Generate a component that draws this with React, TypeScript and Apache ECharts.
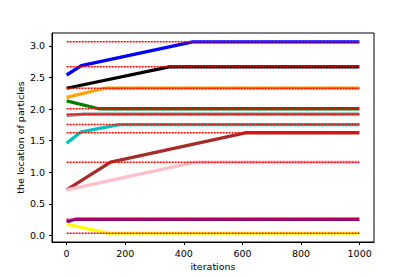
import React, { useEffect, useRef } from "react";
import * as echarts from "echarts";

// Breakpoints [iteration, location] for each particle
const blueData: number[][] = [[0, 2.54], [50, 2.69], [430, 3.065], [999, 3.065]];
const blackData: number[][] = [[0, 2.33], [350, 2.67], [999, 2.67]];
const orangeData: number[][] = [[0, 2.185], [130, 2.33], [999, 2.33]];
const greenData: number[][] = [[0, 2.13], [110, 2.005], [999, 2.005]];
const grayData: number[][] = [[0, 1.9], [60, 1.92], [999, 1.92]];
const cyanData: number[][] = [[0, 1.46], [50, 1.64], [180, 1.755], [999, 1.755]];
const brownData: number[][] = [[0, 0.72], [150, 1.16], [610, 1.625], [999, 1.625]];
const pinkData: number[][] = [[0, 0.72], [440, 1.16], [999, 1.16]];
const purpleData: number[][] = [[0, 0.215], [30, 0.255], [999, 0.255]];
const yellowData: number[][] = [[0, 0.18], [140, 0.035], [999, 0.035]];

const particleColors = ["#0000ff", "#000000", "#ffa500", "#008000", "#808080", "#00bfbf", "#a52a2a", "#ffc0cb", "#800080", "#ffff00"];
const particleSeries = [blueData, blackData, orangeData, greenData, grayData, cyanData, brownData, pinkData, purpleData, yellowData];

// Final (target) locations drawn as red dotted lines
const finalLocations = [3.065, 2.67, 2.33, 2.005, 1.92, 1.755, 1.625, 1.16, 0.255, 0.035];
const lineStart = 0;
const lineEnd = 999;

const xTicks = [0, 200, 400, 600, 800, 1000];
const yTicks = [0, 0.5, 1.0, 1.5, 2.0, 2.5, 3.0];

export default function App() {
  const ref = useRef<HTMLDivElement>(null);
  useEffect(() => {
    if (!ref.current) return;
    const chart = echarts.init(ref.current, null, { renderer: "svg" });
    const font = "DejaVu Sans";
    const series: any[] = [];
    particleSeries.forEach((d, i) => {
      series.push({
        type: "line",
        data: d,
        symbol: "none",
        lineStyle: { color: particleColors[i], width: 3.3 },
        z: 2,
        silent: true,
      });
    });
    finalLocations.forEach((v) => {
      series.push({
        type: "line",
        data: [[lineStart, v], [lineEnd, v]],
        symbol: "none",
        lineStyle: { color: "#ff0000", width: 1.5, type: [2, 1] },
        z: 3,
        silent: true,
      });
    });
    chart.setOption({
      animation: false,
      grid: {
        left: 52,
        top: 33,
        width: 322,
        height: 209,
        show: true,
        borderColor: "#000",
        borderWidth: 1,
        backgroundColor: "#fff",
      },
      xAxis: {
        type: "value",
        min: -49.95,
        max: 1048.95,
        name: "iterations",
        nameLocation: "middle",
        nameGap: 19,
        nameMoveOverlap: false,
        nameTextStyle: { fontFamily: font, fontSize: 9.5, color: "#000" },
        axisLine: { show: true, onZero: false, lineStyle: { color: "#000", width: 1 } },
        axisTick: { show: true, length: 3, customValues: xTicks, lineStyle: { color: "#000" } },
        axisLabel: {
          customValues: xTicks,
          fontFamily: font,
          fontSize: 9.5,
          color: "#000",
          margin: 6,
          formatter: (v: number) => String(v),
        },
        splitLine: { show: false },
      },
      yAxis: {
        type: "value",
        min: -0.105,
        max: 3.205,
        name: "the location of particles",
        nameLocation: "middle",
        nameGap: 27,
        nameMoveOverlap: false,
        nameTextStyle: { fontFamily: font, fontSize: 9.5, color: "#000" },
        axisLine: { show: true, onZero: false, lineStyle: { color: "#000", width: 1 } },
        axisTick: { show: true, length: 3, customValues: yTicks, lineStyle: { color: "#000" } },
        axisLabel: {
          customValues: yTicks,
          fontFamily: font,
          fontSize: 9.5,
          color: "#000",
          margin: 7,
          formatter: (v: number) => v.toFixed(1),
        },
        splitLine: { show: false },
      },
      series,
    });
    return () => chart.dispose();
  }, []);
  return <div ref={ref} style={{ position: "fixed", left: 0, top: 0, width: 415, height: 277, background: "#fff" }} />;
}
